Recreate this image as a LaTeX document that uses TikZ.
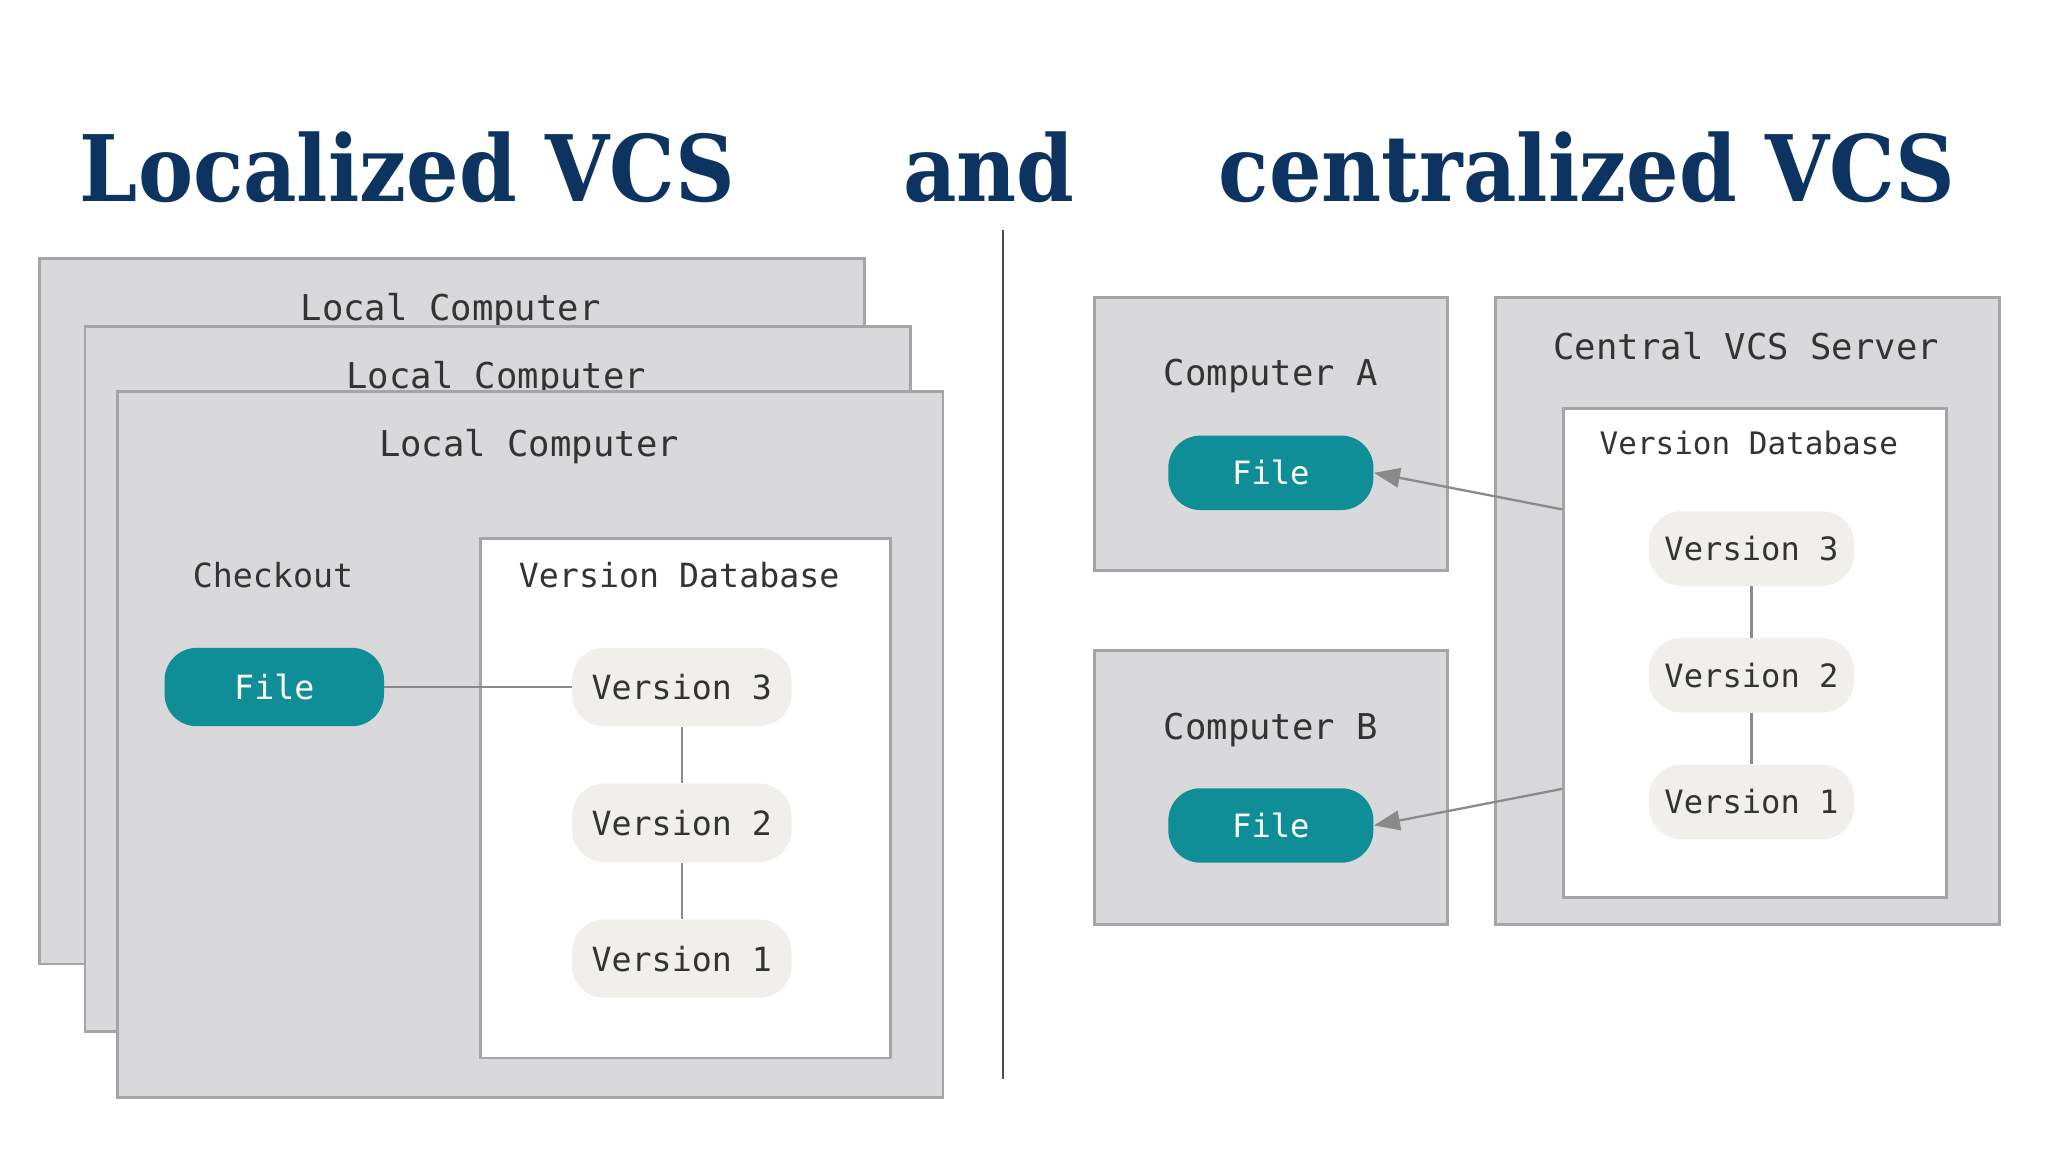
\documentclass[tikz,border=0pt]{standalone}
\usepackage{fontspec}
\setmainfont{DejaVu Sans Mono}
\newfontfamily\titlefont{DejaVu Serif Condensed}
\usetikzlibrary{arrows.meta}
\definecolor{navy}{HTML}{0D3461}
\definecolor{boxgray}{HTML}{D9D8DA}
\definecolor{edgegray}{HTML}{A5A5A7}
\definecolor{teal}{HTML}{108E97}
\definecolor{pill}{HTML}{F0EFEB}
\definecolor{linegray}{HTML}{8A8A8A}
\begin{document}
\begin{tikzpicture}[x=0.02cm,y=-0.02cm,
  comp/.style={draw=edgegray,fill=boxgray,line width=1.2pt},
  db/.style={draw=edgegray,fill=white,line width=1.2pt},
  lbl/.style={font=\fontsize{15.5}{19}\selectfont,text=black!80},
  title/.style={font=\titlefont\bfseries\fontsize{40}{46}\selectfont,text=navy},
  file/.style={rounded corners=14pt,fill=teal,text=white,minimum width=168*0.02cm,minimum height=60*0.02cm,font=\fontsize{14.5}{18}\selectfont},
  ver/.style={rounded corners=14pt,fill=pill,text=black!80,minimum width=168*0.02cm,minimum height=60*0.02cm,font=\fontsize{14.5}{18}\selectfont},
  conn/.style={draw=linegray,line width=1pt}]
\useasboundingbox (0,0) rectangle (1568,882);
\fill[white] (0,0) rectangle (1568,882);
% titles
\node[title] (t1) at (312,128) {Localized VCS};
\node[title] (t2) at (757,128) {and};
\node[title] (t3) at (1215,128) {centralized VCS};
\draw[black!70,line width=1pt] (768,176) -- (768,826);
% left stack
\draw[comp] (30,198) rectangle (662,738);
\node[lbl] (l1) at (345,238) {Local Computer};
\draw[comp] (65,250) rectangle (697,790);
\node[lbl] (l2) at (380,290) {Local Computer};
\draw[comp] (90,300) rectangle (722,840);
\node[lbl] (l3) at (405,342) {Local Computer};
\node[lbl,font=\fontsize{14.5}{18}\selectfont] (co) at (209,440) {Checkout};
\draw[db] (368,412) rectangle (682,810);
\node[lbl,font=\fontsize{14.5}{18}\selectfont] (vdb) at (520,440) {Version Database};
\node[file] (f) at (210,526) {File};
\node[ver] (v3) at (522,526) {Version 3};
\node[ver] (v2) at (522,630) {Version 2};
\node[ver] (v1) at (522,734) {Version 1};
\draw[conn] (f) -- (v3);
\draw[conn] (v3) -- (v2);
\draw[conn] (v2) -- (v1);
% right side
\draw[comp] (838,228) rectangle (1108,437);
\node[lbl] (ca) at (973,288) {Computer A};
\node[file,minimum width=157*0.02cm,minimum height=57*0.02cm,font=\fontsize{14}{17}\selectfont] (fa) at (973,362) {File};
\draw[comp] (838,498) rectangle (1108,708);
\node[lbl] (cb) at (973,559) {Computer B};
\node[file,minimum width=157*0.02cm,minimum height=57*0.02cm,font=\fontsize{14}{17}\selectfont] (fb) at (973,632) {File};
\draw[comp] (1145,228) rectangle (1531,708);
\node[lbl] (srv) at (1337,265) {Central VCS Server};
\draw[db] (1197,313) rectangle (1490,687);
\node[lbl,font=\fontsize{13.5}{17}\selectfont] (vdb2) at (1339,339) {Version Database};
\node[ver,minimum width=157*0.02cm,minimum height=57*0.02cm,font=\fontsize{14}{17}\selectfont] (w3) at (1341,420) {Version 3};
\node[ver,minimum width=157*0.02cm,minimum height=57*0.02cm,font=\fontsize{14}{17}\selectfont] (w2) at (1341,517) {Version 2};
\node[ver,minimum width=157*0.02cm,minimum height=57*0.02cm,font=\fontsize{14}{17}\selectfont] (w1) at (1341,614) {Version 1};
\draw[conn] (w3) -- (w2);
\draw[conn] (w2) -- (w1);
\coordinate (pa) at (1196,390);
\coordinate (pb) at (1196,604);
\draw[conn,-{Triangle[length=4mm,width=3mm]}] (pa) -- (fa.east);
\draw[conn,-{Triangle[length=4mm,width=3mm]}] (pb) -- (fb.east);
\end{tikzpicture}
\end{document}
